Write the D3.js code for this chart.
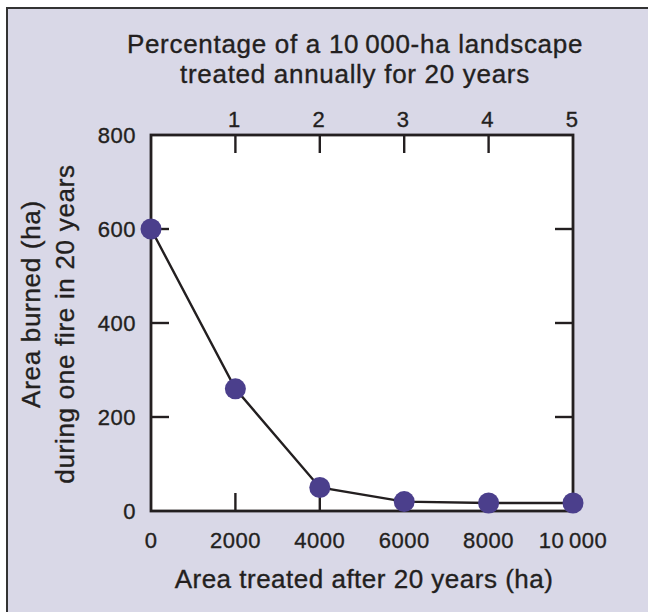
<!DOCTYPE html>
<html><head><meta charset="utf-8">
<script src="https://cdn.jsdelivr.net/npm/d3@7/dist/d3.min.js"></script>
<style>body{margin:0;background:#fff}svg{display:block}text{font-family:"Liberation Sans",Arial,sans-serif;fill:#231f20;stroke:#231f20;stroke-width:0.35px}</style>
</head><body>
<script>
const areaTreated = [0, 2000, 4000, 6000, 8000, 10000];
const areaBurned = [600, 260, 50, 20, 17, 17];
const xTicks = [0, 2000, 4000, 6000, 8000, 10000];
const xTickLabels = ["0", "2000", "4000", "6000", "8000", "10\u2009000"];
const yTicks = [0, 200, 400, 600, 800];
const pctTicks = [1, 2, 3, 4, 5];
const titleLines = ["Percentage of a 10\u2009000-ha landscape", "treated annually for 20 years"];
const yTitleLines = ["Area burned (ha)", "during one fire in 20 years"];
const xTitle = "Area treated after 20 years (ha)";

const W = 648, H = 612;
const svg = d3.select("body").append("svg").attr("width", W).attr("height", H);
svg.append("rect").attr("x", 7).attr("y", 8).attr("width", W).attr("height", H).attr("fill", "#d9d8e7");
svg.append("path").attr("d", `M7,${H} V8 H${W}`).attr("fill", "none").attr("stroke", "#333").attr("stroke-width", 2);

const L = 151, R = 573, T = 135, B = 511;
const x = d3.scaleLinear().domain([0, 10000]).range([L, R]);
const y = d3.scaleLinear().domain([0, 800]).range([B, T]);
const xp = d3.scaleLinear().domain([0, 5]).range([L, R]);

svg.append("rect").attr("x", L).attr("y", T).attr("width", R - L).attr("height", B - T).attr("fill", "#fff");

const tl = 18;
const g = svg.append("g");
g.selectAll(".lt").data(yTicks.filter(d => d > 0 && d < 800)).join("line").attr("class", "lt")
  .attr("x1", L).attr("x2", L + tl).attr("y1", d => y(d)).attr("y2", d => y(d));
g.selectAll(".rt").data(yTicks.filter(d => d > 0 && d < 800)).join("line").attr("class", "rt")
  .attr("x1", R).attr("x2", R - tl).attr("y1", d => y(d)).attr("y2", d => y(d));
g.selectAll(".bt").data(xTicks.filter(d => d > 0 && d < 10000)).join("line").attr("class", "bt")
  .attr("x1", d => x(d)).attr("x2", d => x(d)).attr("y1", B).attr("y2", B - tl);
g.selectAll(".tt").data(pctTicks.filter(d => d < 5)).join("line").attr("class", "tt")
  .attr("x1", d => xp(d)).attr("x2", d => xp(d)).attr("y1", T).attr("y2", T + tl);
g.selectAll("line").attr("stroke", "#231f20").attr("stroke-width", 2.4);

svg.append("rect").attr("x", L).attr("y", T).attr("width", R - L).attr("height", B - T)
  .attr("fill", "none").attr("stroke", "#231f20").attr("stroke-width", 2.8);

const tick = {size: 22, ls: 0.5};
svg.selectAll(".yl").data(yTicks).join("text").attr("class", "yl")
  .attr("x", 136).attr("y", d => y(d) + 8).attr("text-anchor", "end")
  .attr("font-size", tick.size).attr("letter-spacing", tick.ls).text(d => d);
svg.selectAll(".xl").data(xTicks).join("text").attr("class", "xl")
  .attr("x", d => x(d)).attr("y", 548).attr("text-anchor", "middle")
  .attr("font-size", tick.size).attr("letter-spacing", tick.ls).text((d, i) => xTickLabels[i]);
svg.selectAll(".pl").data(pctTicks).join("text").attr("class", "pl")
  .attr("x", d => xp(d) - 1).attr("y", 127).attr("text-anchor", "middle")
  .attr("font-size", tick.size).attr("letter-spacing", tick.ls).text(d => d);

const ttl = {size: 26, ls: 0.7};
svg.selectAll(".ti").data(titleLines).join("text").attr("class", "ti")
  .attr("x", 355).attr("y", (d, i) => 53 + i * 30).attr("text-anchor", "middle")
  .attr("font-size", ttl.size).attr("letter-spacing", ttl.ls).text(d => d);
svg.append("text").attr("x", 364).attr("y", 588).attr("text-anchor", "middle")
  .attr("font-size", ttl.size).attr("letter-spacing", 0.5).text(xTitle);
svg.selectAll(".yt").data(yTitleLines).join("text").attr("class", "yt")
  .attr("transform", (d, i) => `translate(${40 + i * 34},${i ? 324 : 304}) rotate(-90)`)
  .attr("text-anchor", "middle").attr("font-size", ttl.size).attr("letter-spacing", ttl.ls).text(d => d);

const pts = areaTreated.map((d, i) => [d, areaBurned[i]]);
svg.append("path").datum(pts).attr("fill", "none").attr("stroke", "#231f20").attr("stroke-width", 2.4)
  .attr("d", d3.line().x(d => x(d[0])).y(d => y(d[1])));
svg.selectAll(".pt").data(pts).join("circle").attr("class", "pt")
  .attr("cx", d => x(d[0])).attr("cy", d => y(d[1])).attr("r", 10.5).attr("fill", "#4b3f8c");
</script>
</body></html>
